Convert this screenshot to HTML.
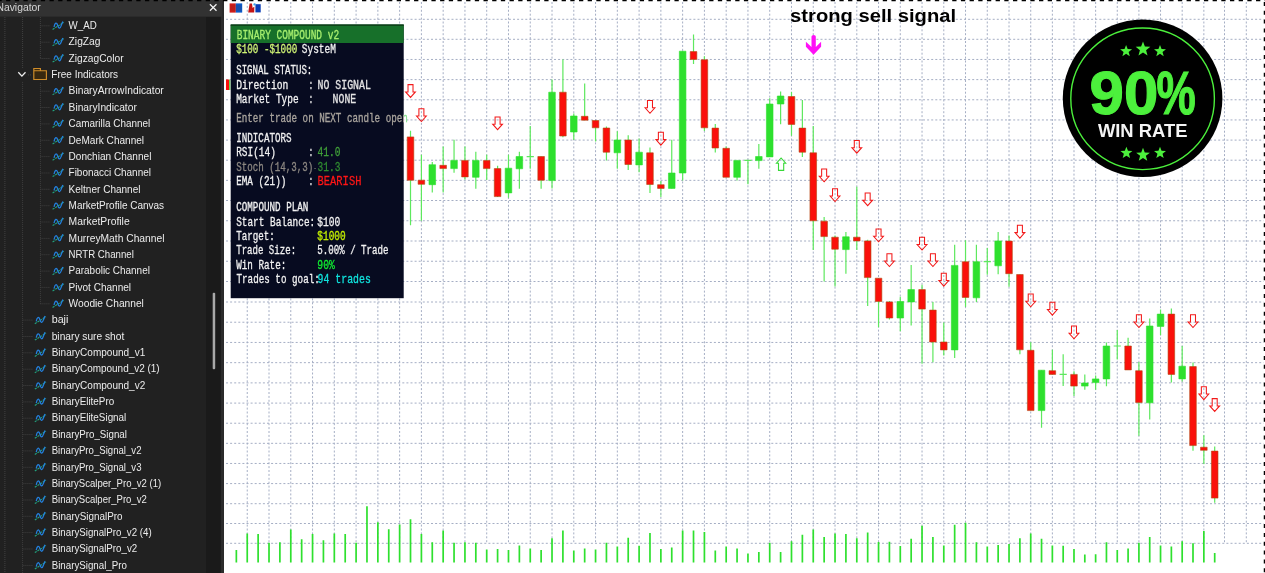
<!DOCTYPE html>
<html lang="en"><head><meta charset="utf-8"><title>Navigator - Binary Compound v2 chart</title>
<style>
html,body{margin:0;padding:0;background:#fff;}
body{width:1265px;height:573px;overflow:hidden;position:relative;font-family:"Liberation Sans",sans-serif;}
#chart{position:absolute;left:0;top:0;width:1265px;height:573px;display:block;}
#nav{position:absolute;left:0;top:0;width:225px;height:573px;display:block;}
#edge{position:absolute;left:0;top:0;width:1265px;height:3px;display:block;}

</style></head><body>
<svg id="chart" width="1265" height="573" viewBox="0 0 1265 573">
<rect x="0" y="0" width="1265" height="573" fill="#ffffff"/>
<path d="M226 19.30H1263.6M226 39.30H1263.6M226 59.46H1263.6M226 79.62H1263.6M226 99.78H1263.6M226 119.94H1263.6M226 140.10H1263.6M226 160.20H1263.6M226 180.35H1263.6M226 200.50H1263.6M226 220.75H1263.6M226 241.00H1263.6M226 261.25H1263.6M226 281.50H1263.6M226 302.00H1263.6M226 322.22H1263.6M226 342.44H1263.6M226 362.66H1263.6M226 382.88H1263.6M226 403.10H1263.6M226 423.22H1263.6M226 443.34H1263.6M226 463.46H1263.6M226 483.58H1263.6M226 503.70H1263.6M226 523.50H1263.6M226 543.30H1263.6" stroke="#a5aec4" stroke-width="1" stroke-dasharray="2 2.1" fill="none"/>
<path d="M247.24 2V543.6M269.01 2V543.6M290.78 2V543.6M312.55 2V543.6M334.32 2V543.6M356.09 2V543.6M377.86 2V543.6M399.63 2V543.6M421.40 2V543.6M443.17 2V543.6M464.94 2V543.6M486.71 2V543.6M508.48 2V543.6M530.25 2V543.6M552.02 2V543.6M573.79 2V543.6M595.56 2V543.6M617.33 2V543.6M639.10 2V543.6M660.87 2V543.6M682.64 2V543.6M704.41 2V543.6M726.18 2V543.6M747.95 2V543.6M769.72 2V543.6M791.49 2V543.6M813.26 2V543.6M835.03 2V543.6M856.80 2V543.6M878.55 2V543.6M900.29 2V543.6M922.04 2V543.6M943.79 2V543.6M965.53 2V543.6M987.28 2V543.6M1009.03 2V543.6M1030.72 2V543.6M1052.36 2V543.6M1073.99 2V543.6M1095.63 2V543.6M1117.27 2V543.6M1138.91 2V543.6M1160.54 2V543.6M1182.18 2V543.6M1203.85 2V543.6M1224.50 2V543.6M1246.30 2V543.6" stroke="#a5aec4" stroke-width="1" stroke-dasharray="2 1.9" fill="none"/>
<path d="M236.35 562.4V550.1M247.24 562.4V533.6M258.12 562.4V534.1M269.01 562.4V542.7M279.89 562.4V542.3M290.78 562.4V529.5M301.66 562.4V539.2M312.55 562.4V534.1M323.43 562.4V540.2M334.32 562.4V533.6M345.20 562.4V534.1M356.09 562.4V542.7M366.97 562.4V506.3M377.86 562.4V522.3M388.75 562.4V529.3M399.63 562.4V524.4M410.51 562.4V519.3M421.40 562.4V534.1M432.28 562.4V542.3M443.17 562.4V530.4M454.05 562.4V542.7M464.94 562.4V542.3M475.82 562.4V542.7M486.71 562.4V549.5M497.59 562.4V548.9M508.48 562.4V549.9M519.37 562.4V545.4M530.25 562.4V548.4M541.13 562.4V549.9M552.02 562.4V538.2M562.90 562.4V530.4M573.79 562.4V550.5M584.67 562.4V548.4M595.56 562.4V549.5M606.44 562.4V542.7M617.33 562.4V546.4M628.21 562.4V537.8M639.10 562.4V545.8M649.98 562.4V533.0M660.87 562.4V549.1M671.75 562.4V547.4M682.64 562.4V530.4M693.52 562.4V530.4M704.41 562.4V532.0M715.29 562.4V550.5M726.18 562.4V546.4M737.06 562.4V548.4M747.95 562.4V553.6M758.84 562.4V552.1M769.72 562.4V542.7M780.61 562.4V552.1M791.49 562.4V541.2M802.38 562.4V534.7M813.26 562.4V529.5M824.14 562.4V537.1M835.03 562.4V533.6M845.91 562.4V534.1M856.80 562.4V538.2M867.67 562.4V532.4M878.55 562.4V541.9M889.42 562.4V541.7M900.29 562.4V546.0M911.17 562.4V538.8M922.04 562.4V525.8M932.91 562.4V537.1M943.79 562.4V545.4M954.66 562.4V524.8M965.53 562.4V522.7M976.41 562.4V542.3M987.28 562.4V546.4M998.15 562.4V545.0M1009.03 562.4V543.9M1019.90 562.4V538.2M1030.72 562.4V533.6M1041.54 562.4V538.8M1052.36 562.4V545.4M1063.17 562.4V545.8M1073.99 562.4V548.9M1084.81 562.4V554.6M1095.63 562.4V554.2M1106.45 562.4V542.3M1117.27 562.4V550.1M1128.09 562.4V548.4M1138.91 562.4V542.7M1149.72 562.4V537.1M1160.54 562.4V545.4M1171.36 562.4V546.4M1182.18 562.4V541.2M1193.00 562.4V543.3M1203.85 562.4V531.0M1214.70 562.4V553.0" stroke="#2ee02e" stroke-width="1.7" fill="none"/>
<path d="M410.51 130.8V225.3M421.40 154.8V220.8M432.28 162.0V192.5M443.17 146.6V192.5M454.05 139.8V172.7M464.94 146.6V179.5M475.82 151.8V188.8M486.71 154.8V180.0M497.59 165.7V197.0M508.48 154.8V197.7M519.37 151.8V188.8M530.25 126.0V168.8M526.65 156.7H533.85M541.13 156.5V188.8M552.02 79.4V188.4M562.90 59.4V137.3M573.79 113.4V140.0M584.67 83.5V120.3M595.56 120.3V141.5M606.44 126.6V160.6M617.33 131.2V168.8M628.21 135.3V169.9M639.10 138.4V172.3M649.98 147.6V192.9M660.87 181.0V197.0M671.75 139.8V188.4M682.64 51.2V180.6M693.52 34.5V64.0M704.41 56.3V130.9M715.29 124.0V152.4M726.18 146.6V177.3M737.06 160.4V180.6M747.95 160.4V184.3M744.35 160.4H751.55M758.84 143.9V168.8M769.72 98.2V156.9M780.61 91.5V124.2M791.49 92.0V135.7M802.38 99.9V156.9M813.26 126.0V250.0M824.14 217.0V281.5M835.03 235.6V286.6M845.91 232.0V273.7M856.80 186.8V250.0M867.67 239.7V306.0M878.55 278.2V327.2M889.42 300.9V319.4M900.29 296.8V331.3M911.17 265.0V325.6M922.04 284.8V363.7M932.91 301.9V362.2M943.79 322.5V355.4M954.66 244.8V358.1M965.53 240.3V307.0M976.41 244.8V301.9M987.28 248.0V274.7M983.68 261.7H990.88M998.15 232.0V274.3M1009.03 235.6V286.7M1019.90 274.5V354.3M1030.72 342.3V410.6M1041.54 370.2V427.7M1052.36 349.7V374.4M1063.17 354.2V386.1M1059.58 374.4H1066.77M1073.99 371.3V396.0M1084.81 374.4V389.8M1095.63 375.4V389.8M1106.45 342.5V386.3M1117.27 330.1V359.6M1113.67 346.0H1120.87M1128.09 337.8V369.9M1138.91 362.0V435.7M1149.72 318.4V419.4M1160.54 309.6V335.3M1171.36 308.5V382.6M1182.18 346.0V381.6M1193.00 362.5V450.7M1203.85 435.3V464.1M1214.70 446.6V502.8" stroke="#5ee85e" stroke-width="1.2" fill="none"/>
<path d="M428.98 164.7h6.6V184.7h-6.6zM450.75 160.4h6.6V168.6h-6.6zM472.52 160.4h6.6V177.3h-6.6zM505.18 168.2h6.6V192.9h-6.6zM516.07 156.5h6.6V168.8h-6.6zM548.72 92.2h6.6V180.6h-6.6zM570.49 116.0h6.6V132.0h-6.6zM614.03 140.0h6.6V152.8h-6.6zM635.80 152.2h6.6V164.9h-6.6zM668.45 173.0h6.6V188.4h-6.6zM679.34 51.2h6.6V173.0h-6.6zM733.76 160.4h6.6V177.3h-6.6zM755.54 156.5h6.6V160.6h-6.6zM766.42 104.0h6.6V156.9h-6.6zM777.31 96.0h6.6V104.0h-6.6zM842.62 236.8h6.6V249.6h-6.6zM896.99 301.5h6.6V318.0h-6.6zM907.87 289.6h6.6V301.9h-6.6zM951.36 265.4h6.6V349.9h-6.6zM973.11 261.7h6.6V297.8h-6.6zM994.85 240.9h6.6V265.8h-6.6zM1038.24 370.2h6.6V410.6h-6.6zM1081.51 383.0h6.6V386.1h-6.6zM1092.33 378.9h6.6V382.6h-6.6zM1103.15 346.0h6.6V378.9h-6.6zM1146.42 326.0h6.6V402.8h-6.6zM1157.24 314.1h6.6V326.4h-6.6zM1178.88 366.2h6.6V378.9h-6.6z" fill="#2ee02e" stroke="#2ee02e" stroke-width="0.6"/>
<path d="M407.21 136.9h6.6V180.2h-6.6zM418.10 180.2h6.6V184.3h-6.6zM439.87 165.3h6.6V168.6h-6.6zM461.64 160.4h6.6V176.9h-6.6zM483.41 160.6h6.6V168.6h-6.6zM494.29 168.6h6.6V196.6h-6.6zM537.84 156.5h6.6V180.2h-6.6zM559.61 92.2h6.6V136.0h-6.6zM581.38 116.3h6.6V120.2h-6.6zM592.26 120.5h6.6V127.8h-6.6zM603.14 128.0h6.6V152.2h-6.6zM624.91 140.0h6.6V164.5h-6.6zM646.68 152.8h6.6V184.5h-6.6zM657.57 184.7h6.6V188.4h-6.6zM690.23 51.6h6.6V59.4h-6.6zM701.11 59.8h6.6V127.8h-6.6zM712.00 128.1h6.6V148.0h-6.6zM722.88 148.3h6.6V177.3h-6.6zM788.19 96.5h6.6V124.4h-6.6zM799.08 128.1h6.6V152.2h-6.6zM809.96 152.8h6.6V220.8h-6.6zM820.85 221.2h6.6V236.6h-6.6zM831.73 237.2h6.6V249.2h-6.6zM853.50 237.2h6.6V240.9h-6.6zM864.37 240.9h6.6V277.6h-6.6zM875.25 278.2h6.6V301.5h-6.6zM886.12 301.9h6.6V318.0h-6.6zM918.74 289.6h6.6V309.1h-6.6zM929.61 310.1h6.6V342.0h-6.6zM940.49 342.0h6.6V349.9h-6.6zM962.23 261.7h6.6V297.4h-6.6zM1005.73 241.1h6.6V273.7h-6.6zM1016.60 274.5h6.6V349.8h-6.6zM1027.42 350.3h6.6V410.6h-6.6zM1049.06 370.7h6.6V374.4h-6.6zM1070.69 374.4h6.6V386.1h-6.6zM1124.79 346.0h6.6V369.9h-6.6zM1135.61 370.7h6.6V402.5h-6.6zM1168.06 314.1h6.6V374.4h-6.6zM1189.70 366.6h6.6V445.6h-6.6zM1200.55 447.2h6.6V450.3h-6.6zM1211.40 451.1h6.6V498.1h-6.6z" fill="#fa100a" stroke="#b04a10" stroke-width="0.6"/>
<rect x="226" y="79.5" width="3.3" height="10.5" fill="#fa100a"/><rect x="229.3" y="79.5" width="1" height="10.5" fill="#2ee02e"/>
<path d="M408.01 84.60h5v7.3h2.4l-4.9 5.5l-4.9-5.5h2.4zM418.90 108.70h5v7.3h2.4l-4.9 5.5l-4.9-5.5h2.4zM495.09 116.90h5v7.3h2.4l-4.9 5.5l-4.9-5.5h2.4zM647.48 100.50h5v7.3h2.4l-4.9 5.5l-4.9-5.5h2.4zM658.37 132.30h5v7.3h2.4l-4.9 5.5l-4.9-5.5h2.4zM821.64 169.00h5v7.3h2.4l-4.9 5.5l-4.9-5.5h2.4zM832.53 188.70h5v7.3h2.4l-4.9 5.5l-4.9-5.5h2.4zM854.30 140.40h5v7.3h2.4l-4.9 5.5l-4.9-5.5h2.4zM865.17 192.90h5v7.3h2.4l-4.9 5.5l-4.9-5.5h2.4zM876.05 229.00h5v7.3h2.4l-4.9 5.5l-4.9-5.5h2.4zM886.92 253.70h5v7.3h2.4l-4.9 5.5l-4.9-5.5h2.4zM919.54 237.20h5v7.3h2.4l-4.9 5.5l-4.9-5.5h2.4zM930.41 253.70h5v7.3h2.4l-4.9 5.5l-4.9-5.5h2.4zM941.29 273.30h5v7.3h2.4l-4.9 5.5l-4.9-5.5h2.4zM1017.40 225.30h5v7.3h2.4l-4.9 5.5l-4.9-5.5h2.4zM1028.22 294.00h5v7.3h2.4l-4.9 5.5l-4.9-5.5h2.4zM1049.86 302.30h5v7.3h2.4l-4.9 5.5l-4.9-5.5h2.4zM1071.49 326.00h5v7.3h2.4l-4.9 5.5l-4.9-5.5h2.4zM1136.41 314.70h5v7.3h2.4l-4.9 5.5l-4.9-5.5h2.4zM1190.50 314.70h5v7.3h2.4l-4.9 5.5l-4.9-5.5h2.4zM1201.35 386.80h5v7.3h2.4l-4.9 5.5l-4.9-5.5h2.4zM1212.20 398.60h5v7.3h2.4l-4.9 5.5l-4.9-5.5h2.4z" fill="none" stroke="#f21a1a" stroke-width="1.05" stroke-linejoin="miter"/>
<path d="M778.50 170.40h5.2v-7.2h2l-4.6-5.2l-4.6 5.2h2z" fill="none" stroke="#38d838" stroke-width="1.1"/>
<path d="M811.5 36.6Q811.5 35 813.65 35Q815.8 35 815.8 36.6V47L821.1 41.7V46.8L813.6 54.7L805.9 46.8V41.7L811.5 47Z" fill="#ff10f6"/>
<text x="790.1" y="22.3" font-family="Liberation Sans, sans-serif" font-weight="700" font-size="19.2" textLength="166" lengthAdjust="spacingAndGlyphs" fill="#000">strong sell signal</text>
<g><rect x="229.6" y="3.4" width="6.2" height="9.2" fill="#d01c18"/><rect x="235.8" y="3.4" width="6.4" height="9.2" fill="#0a5ac8"/><path d="M230.5 6H241.5M230.5 8H241.5M230.5 10H241.5" stroke="#60282a" stroke-opacity=".45" stroke-width=".7"/><path d="M248.2 12.4L249.6 3.6L252 3.6L252.6 8L254.4 6.6L254.2 12.4Z" fill="#c41414"/><rect x="255.4" y="4.2" width="5.3" height="8.2" fill="#0a3cb4"/><circle cx="254.6" cy="4.4" r="1.2" fill="#3aa0e8"/></g>
<defs><linearGradient id="og" gradientUnits="userSpaceOnUse" x1="236" y1="0" x2="410" y2="0"><stop offset="0.9638" stop-color="#a8a39c"/><stop offset="0.9638" stop-color="#86e090"/></linearGradient></defs>
<g id="panel" font-family="Liberation Mono, monospace">
<rect x="230.7" y="24.6" width="173" height="273.6" fill="#070b20"/>
<rect x="230.7" y="24.6" width="173" height="18.4" fill="#17702a"/>
<rect x="230.7" y="24.6" width="173" height="1.2" fill="#0c3a14"/>
<text x="236.7" y="38.8" font-size="12.1" textLength="102.4" lengthAdjust="spacingAndGlyphs" fill="#a6ee6e" stroke="#a6ee6e" stroke-width="0.3">BINARY COMPOUND v2</text>
<text x="236.2" y="52.8" font-size="12.1" textLength="61.1" lengthAdjust="spacingAndGlyphs" fill="#cef274" stroke="#cef274" stroke-width="0.3">$100 -$1000</text>
<text x="301.8" y="52.8" font-size="12.1" textLength="34.1" lengthAdjust="spacingAndGlyphs" fill="#f2f2f2" stroke="#f2f2f2" stroke-width="0.3">SysteM</text>
<text x="236.2" y="74.1" font-size="12.1" textLength="76.1" lengthAdjust="spacingAndGlyphs" fill="#f2f2f2" stroke="#f2f2f2" stroke-width="0.3">SIGNAL STATUS:</text>
<text x="236.2" y="88.8" font-size="12.1" textLength="52.1" lengthAdjust="spacingAndGlyphs" fill="#f2f2f2" stroke="#f2f2f2" stroke-width="0.3">Direction</text>
<text x="308.8" y="88.8" font-size="12.1" textLength="4.4" lengthAdjust="spacingAndGlyphs" fill="#f2f2f2" stroke="#f2f2f2" stroke-width="0.3">:</text>
<text x="317.6" y="88.8" font-size="12.1" textLength="53.3" lengthAdjust="spacingAndGlyphs" fill="#e4e4e4" stroke="#e4e4e4" stroke-width="0.3">NO SIGNAL</text>
<text x="236.2" y="103.4" font-size="12.1" textLength="62.4" lengthAdjust="spacingAndGlyphs" fill="#f2f2f2" stroke="#f2f2f2" stroke-width="0.3">Market Type</text>
<text x="308.8" y="103.4" font-size="12.1" textLength="4.4" lengthAdjust="spacingAndGlyphs" fill="#f2f2f2" stroke="#f2f2f2" stroke-width="0.3">:</text>
<text x="332.6" y="103.4" font-size="12.1" textLength="23.6" lengthAdjust="spacingAndGlyphs" fill="#e4e4e4" stroke="#e4e4e4" stroke-width="0.3">NONE</text>
<text x="236.2" y="121.9" font-size="12.1" textLength="171.6" lengthAdjust="spacingAndGlyphs" fill="url(#og)" stroke="url(#og)" stroke-width="0.3">Enter trade on NEXT candle open</text>
<text x="236.2" y="141.9" font-size="12.1" textLength="55.4" lengthAdjust="spacingAndGlyphs" fill="#f2f2f2" stroke="#f2f2f2" stroke-width="0.3">INDICATORS</text>
<text x="236.2" y="156.2" font-size="12.1" textLength="39.6" lengthAdjust="spacingAndGlyphs" fill="#f2f2f2" stroke="#f2f2f2" stroke-width="0.3">RSI(14)</text>
<text x="308.8" y="156.2" font-size="12.1" textLength="4.4" lengthAdjust="spacingAndGlyphs" fill="#f2f2f2" stroke="#f2f2f2" stroke-width="0.3">:</text>
<text x="317.6" y="156.2" font-size="12.1" textLength="22.8" lengthAdjust="spacingAndGlyphs" fill="#3f9e38" stroke="#3f9e38" stroke-width="0.3">41.0</text>
<text x="236.2" y="170.8" font-size="12.1" textLength="77.2" lengthAdjust="spacingAndGlyphs" fill="#8d8882" stroke="#8d8882" stroke-width="0.3">Stoch (14,3,3)</text>
<text x="313.5" y="170.8" font-size="9" textLength="3.2" lengthAdjust="spacingAndGlyphs" fill="#6a6a6a" stroke="#6a6a6a" stroke-width="0.3">-</text>
<text x="317.6" y="170.8" font-size="12.1" textLength="22.8" lengthAdjust="spacingAndGlyphs" fill="#2f8a30" stroke="#2f8a30" stroke-width="0.3">31.3</text>
<text x="236.2" y="185.3" font-size="12.1" textLength="50.1" lengthAdjust="spacingAndGlyphs" fill="#f2f2f2" stroke="#f2f2f2" stroke-width="0.3">EMA (21))</text>
<text x="308.8" y="185.3" font-size="12.1" textLength="4.4" lengthAdjust="spacingAndGlyphs" fill="#f2f2f2" stroke="#f2f2f2" stroke-width="0.3">:</text>
<text x="317.6" y="185.4" font-size="13.2" textLength="43.8" lengthAdjust="spacingAndGlyphs" fill="#ff1616" stroke="#ff1616" stroke-width="0.3">BEARISH</text>
<text x="236.2" y="211.4" font-size="12.1" textLength="72.2" lengthAdjust="spacingAndGlyphs" fill="#f2f2f2" stroke="#f2f2f2" stroke-width="0.3">COMPOUND PLAN</text>
<text x="236.2" y="225.8" font-size="12.1" textLength="79.0" lengthAdjust="spacingAndGlyphs" fill="#f2f2f2" stroke="#f2f2f2" stroke-width="0.3">Start Balance:</text>
<text x="317.3" y="225.8" font-size="12.1" textLength="23.1" lengthAdjust="spacingAndGlyphs" fill="#f2f2f2" stroke="#f2f2f2" stroke-width="0.3">$100</text>
<text x="236.2" y="240.3" font-size="12.1" textLength="38.6" lengthAdjust="spacingAndGlyphs" fill="#f2f2f2" stroke="#f2f2f2" stroke-width="0.3">Target:</text>
<text x="317.3" y="240.3" font-size="12.1" textLength="28.4" lengthAdjust="spacingAndGlyphs" fill="#c2ee00" stroke="#c2ee00" stroke-width="0.3">$1000</text>
<text x="236.2" y="254.4" font-size="12.1" textLength="59.9" lengthAdjust="spacingAndGlyphs" fill="#f2f2f2" stroke="#f2f2f2" stroke-width="0.3">Trade Size:</text>
<text x="317.3" y="254.4" font-size="12.1" textLength="71.2" lengthAdjust="spacingAndGlyphs" fill="#f2f2f2" stroke="#f2f2f2" stroke-width="0.3">5.00% / Trade</text>
<text x="236.2" y="268.8" font-size="12.1" textLength="50.1" lengthAdjust="spacingAndGlyphs" fill="#f2f2f2" stroke="#f2f2f2" stroke-width="0.3">Win Rate:</text>
<text x="317.3" y="268.8" font-size="12.1" textLength="17.5" lengthAdjust="spacingAndGlyphs" fill="#10f030" stroke="#10f030" stroke-width="0.3">90%</text>
<text x="236.5" y="283.3" font-size="12.1" textLength="83.3" lengthAdjust="spacingAndGlyphs" fill="#f2f2f2" stroke="#f2f2f2" stroke-width="0.3">Trades to goal:</text>
<text x="317.6" y="283.3" font-size="12.1" textLength="53.2" lengthAdjust="spacingAndGlyphs" fill="#10e2dc" stroke="#10e2dc" stroke-width="0.3">94 trades</text>
</g>
<g id="badge">
<ellipse cx="1142.6" cy="98.3" rx="79.8" ry="78.8" fill="#000"/>
<ellipse cx="1142.6" cy="98.8" rx="71.8" ry="70.8" fill="none" stroke="#4cf03c" stroke-width="1.4"/>
<polygon points="1126.10,44.90 1127.66,49.06 1132.09,49.25 1128.62,52.02 1129.80,56.30 1126.10,53.85 1122.40,56.30 1123.58,52.02 1120.11,49.25 1124.54,49.06" fill="#4cf03c"/>
<polygon points="1143.00,41.50 1144.90,46.58 1150.32,46.82 1146.08,50.20 1147.53,55.43 1143.00,52.43 1138.47,55.43 1139.92,50.20 1135.68,46.82 1141.10,46.58" fill="#4cf03c"/>
<polygon points="1160.00,44.90 1161.56,49.06 1165.99,49.25 1162.52,52.02 1163.70,56.30 1160.00,53.85 1156.30,56.30 1157.48,52.02 1154.01,49.25 1158.44,49.06" fill="#4cf03c"/>
<polygon points="1126.40,146.70 1127.96,150.86 1132.39,151.05 1128.92,153.82 1130.10,158.10 1126.40,155.65 1122.70,158.10 1123.88,153.82 1120.41,151.05 1124.84,150.86" fill="#4cf03c"/>
<polygon points="1143.00,147.70 1144.78,152.45 1149.85,152.68 1145.88,155.83 1147.23,160.72 1143.00,157.92 1138.77,160.72 1140.12,155.83 1136.15,152.68 1141.22,152.45" fill="#4cf03c"/>
<polygon points="1160.00,146.70 1161.56,150.86 1165.99,151.05 1162.52,153.82 1163.70,158.10 1160.00,155.65 1156.30,158.10 1157.48,153.82 1154.01,151.05 1158.44,150.86" fill="#4cf03c"/>
<text y="113.7" font-family="Liberation Sans, sans-serif" font-weight="700" font-size="62" fill="#4cf03c" stroke="#4cf03c" stroke-width="1.2"><tspan x="1089.6" textLength="68.6" lengthAdjust="spacingAndGlyphs">90</tspan><tspan x="1156.6" textLength="39.2" lengthAdjust="spacingAndGlyphs">%</tspan></text>
<text x="1097.9" y="137.4" font-family="Liberation Sans, sans-serif" font-weight="700" font-size="18.4" textLength="89.5" lengthAdjust="spacingAndGlyphs" fill="#f4f4f4">WIN RATE</text>
</g>
<path d="M1264.4 1.9V573" stroke="#000" stroke-width="1.3" stroke-dasharray="4 4.85" fill="none"/>
</svg>
<svg id="nav" width="225" height="573" viewBox="0 0 225 573" font-family="Liberation Sans, sans-serif">
<rect x="0" y="0" width="224" height="573" fill="#212121"/>
<rect x="206.2" y="17" width="14.6" height="556" fill="#1a1a1a"/>
<rect x="220.8" y="0" width="3.1" height="573" fill="#2c2c2c"/>
<rect x="0" y="0" width="222" height="16.6" fill="#323232"/>
<rect x="212.7" y="292.8" width="2.5" height="76.4" rx="1" fill="#a8a8a8"/>
<path d="M4.9 17V573M22.6 17V68.9M22.6 81.9V573M40.4 17V58.5M40.4 82.9V303.8M40.4 25.8H50.5M40.4 42.2H50.5M40.4 58.5H50.5M28 74.9H31.5M40.4 91.2H50.5M40.4 107.5H50.5M40.4 123.9H50.5M40.4 140.3H50.5M40.4 156.6H50.5M40.4 173.0H50.5M40.4 189.3H50.5M40.4 205.7H50.5M40.4 222.0H50.5M40.4 238.4H50.5M40.4 254.7H50.5M40.4 271.1H50.5M40.4 287.4H50.5M40.4 303.8H50.5M22.6 320.1H33M22.6 336.5H33M22.6 352.8H33M22.6 369.2H33M22.6 385.5H33M22.6 401.9H33M22.6 418.2H33M22.6 434.6H33M22.6 450.9H33M22.6 467.3H33M22.6 483.6H33M22.6 500.0H33M22.6 516.3H33M22.6 532.6H33M22.6 549.0H33M22.6 565.4H33" stroke="#404040" stroke-width="1" stroke-dasharray="1 1" fill="none"/>
<path d="M18.3 72.3L21.9 76.1L25.5 72.3" fill="none" stroke="#f0f0f0" stroke-width="1.3"/>
<path d="M33.8 68.5H40.4V70.7H46.4V79.5H33.8Z M33.8 70.7H40.4" fill="#38280f" stroke="#cf8d2a" stroke-width="1.15"/>
<path d="M52.6 29.4L63.8 22.4M52.6 45.8L63.8 38.8M52.6 62.1L63.8 55.1M52.6 94.8L63.8 87.8M52.6 111.1L63.8 104.1M52.6 127.5L63.8 120.5M52.6 143.9L63.8 136.9M52.6 160.2L63.8 153.2M52.6 176.6L63.8 169.6M52.6 192.9L63.8 185.9M52.6 209.3L63.8 202.3M52.6 225.6L63.8 218.6M52.6 242.0L63.8 235.0M52.6 258.3L63.8 251.3M52.6 274.7L63.8 267.7M52.6 291.0L63.8 284.0M52.6 307.4L63.8 300.4M34.8 323.7L46.0 316.7M34.8 340.1L46.0 333.1M34.8 356.4L46.0 349.4M34.8 372.8L46.0 365.8M34.8 389.1L46.0 382.1M34.8 405.5L46.0 398.5M34.8 421.8L46.0 414.8M34.8 438.2L46.0 431.2M34.8 454.5L46.0 447.5M34.8 470.9L46.0 463.9M34.8 487.2L46.0 480.2M34.8 503.6L46.0 496.6M34.8 519.9L46.0 512.9M34.8 536.2L46.0 529.2M34.8 552.6L46.0 545.6M34.8 569.0L46.0 562.0" fill="none" stroke="#22a07c" stroke-width="1.15" stroke-dasharray="2.2 0.9"/>
<path d="M54.0 27.0C55.0 22.4 56.6 22.0 57.6 25.2S60.0 29.4 61.2 25.6L62.8 21.6M54.0 43.4C55.0 38.8 56.6 38.4 57.6 41.6S60.0 45.8 61.2 42.0L62.8 38.0M54.0 59.7C55.0 55.1 56.6 54.7 57.6 57.9S60.0 62.1 61.2 58.3L62.8 54.3M54.0 92.4C55.0 87.8 56.6 87.4 57.6 90.6S60.0 94.8 61.2 91.0L62.8 87.0M54.0 108.7C55.0 104.1 56.6 103.7 57.6 106.9S60.0 111.1 61.2 107.3L62.8 103.3M54.0 125.1C55.0 120.5 56.6 120.1 57.6 123.3S60.0 127.5 61.2 123.7L62.8 119.7M54.0 141.5C55.0 136.9 56.6 136.5 57.6 139.7S60.0 143.9 61.2 140.1L62.8 136.1M54.0 157.8C55.0 153.2 56.6 152.8 57.6 156.0S60.0 160.2 61.2 156.4L62.8 152.4M54.0 174.2C55.0 169.6 56.6 169.2 57.6 172.4S60.0 176.6 61.2 172.8L62.8 168.8M54.0 190.5C55.0 185.9 56.6 185.5 57.6 188.7S60.0 192.9 61.2 189.1L62.8 185.1M54.0 206.9C55.0 202.3 56.6 201.9 57.6 205.1S60.0 209.3 61.2 205.5L62.8 201.5M54.0 223.2C55.0 218.6 56.6 218.2 57.6 221.4S60.0 225.6 61.2 221.8L62.8 217.8M54.0 239.6C55.0 235.0 56.6 234.6 57.6 237.8S60.0 242.0 61.2 238.2L62.8 234.2M54.0 255.9C55.0 251.3 56.6 250.9 57.6 254.1S60.0 258.3 61.2 254.5L62.8 250.5M54.0 272.3C55.0 267.7 56.6 267.3 57.6 270.5S60.0 274.7 61.2 270.9L62.8 266.9M54.0 288.6C55.0 284.0 56.6 283.6 57.6 286.8S60.0 291.0 61.2 287.2L62.8 283.2M54.0 305.0C55.0 300.4 56.6 300.0 57.6 303.2S60.0 307.4 61.2 303.6L62.8 299.6M36.2 321.3C37.2 316.7 38.8 316.3 39.8 319.5S42.2 323.7 43.4 319.9L45.0 315.9M36.2 337.7C37.2 333.1 38.8 332.7 39.8 335.9S42.2 340.1 43.4 336.3L45.0 332.3M36.2 354.0C37.2 349.4 38.8 349.0 39.8 352.2S42.2 356.4 43.4 352.6L45.0 348.6M36.2 370.4C37.2 365.8 38.8 365.4 39.8 368.6S42.2 372.8 43.4 369.0L45.0 365.0M36.2 386.7C37.2 382.1 38.8 381.7 39.8 384.9S42.2 389.1 43.4 385.3L45.0 381.3M36.2 403.1C37.2 398.5 38.8 398.1 39.8 401.3S42.2 405.5 43.4 401.7L45.0 397.7M36.2 419.4C37.2 414.8 38.8 414.4 39.8 417.6S42.2 421.8 43.4 418.0L45.0 414.0M36.2 435.8C37.2 431.2 38.8 430.8 39.8 434.0S42.2 438.2 43.4 434.4L45.0 430.4M36.2 452.1C37.2 447.5 38.8 447.1 39.8 450.3S42.2 454.5 43.4 450.7L45.0 446.7M36.2 468.5C37.2 463.9 38.8 463.5 39.8 466.7S42.2 470.9 43.4 467.1L45.0 463.1M36.2 484.8C37.2 480.2 38.8 479.8 39.8 483.0S42.2 487.2 43.4 483.4L45.0 479.4M36.2 501.2C37.2 496.6 38.8 496.2 39.8 499.4S42.2 503.6 43.4 499.8L45.0 495.8M36.2 517.5C37.2 512.9 38.8 512.5 39.8 515.7S42.2 519.9 43.4 516.1L45.0 512.1M36.2 533.9C37.2 529.2 38.8 528.9 39.8 532.0S42.2 536.2 43.4 532.5L45.0 528.5M36.2 550.2C37.2 545.6 38.8 545.2 39.8 548.4S42.2 552.6 43.4 548.8L45.0 544.8M36.2 566.6C37.2 562.0 38.8 561.6 39.8 564.8S42.2 569.0 43.4 565.2L45.0 561.2" fill="none" stroke="#2480de" stroke-width="1.25" stroke-linejoin="round"/>
<g font-size="11.3" fill="#ececec">
<text x="-3.6" y="11.0" textLength="44.4" lengthAdjust="spacingAndGlyphs" fill="#d6d6d6">Navigator</text>
<text x="68.6" y="29.05" textLength="28.1" lengthAdjust="spacingAndGlyphs">W_AD</text>
<text x="68.6" y="45.40" textLength="31.9" lengthAdjust="spacingAndGlyphs">ZigZag</text>
<text x="68.6" y="61.75" textLength="55.0" lengthAdjust="spacingAndGlyphs">ZigzagColor</text>
<text x="51.3" y="78.10" textLength="66.8" lengthAdjust="spacingAndGlyphs">Free Indicators</text>
<text x="68.6" y="94.45" textLength="95.2" lengthAdjust="spacingAndGlyphs">BinaryArrowIndicator</text>
<text x="68.6" y="110.80" textLength="68.2" lengthAdjust="spacingAndGlyphs">BinaryIndicator</text>
<text x="68.6" y="127.15" textLength="81.6" lengthAdjust="spacingAndGlyphs">Camarilla Channel</text>
<text x="68.6" y="143.50" textLength="75.5" lengthAdjust="spacingAndGlyphs">DeMark Channel</text>
<text x="68.6" y="159.85" textLength="82.8" lengthAdjust="spacingAndGlyphs">Donchian Channel</text>
<text x="68.6" y="176.20" textLength="82.3" lengthAdjust="spacingAndGlyphs">Fibonacci Channel</text>
<text x="68.6" y="192.55" textLength="71.9" lengthAdjust="spacingAndGlyphs">Keltner Channel</text>
<text x="68.6" y="208.90" textLength="95.5" lengthAdjust="spacingAndGlyphs">MarketProfile Canvas</text>
<text x="68.6" y="225.25" textLength="61.1" lengthAdjust="spacingAndGlyphs">MarketProfile</text>
<text x="68.6" y="241.60" textLength="95.9" lengthAdjust="spacingAndGlyphs">MurreyMath Channel</text>
<text x="68.6" y="257.95" textLength="65.2" lengthAdjust="spacingAndGlyphs">NRTR Channel</text>
<text x="68.6" y="274.30" textLength="81.3" lengthAdjust="spacingAndGlyphs">Parabolic Channel</text>
<text x="68.6" y="290.65" textLength="62.5" lengthAdjust="spacingAndGlyphs">Pivot Channel</text>
<text x="68.6" y="307.00" textLength="75.3" lengthAdjust="spacingAndGlyphs">Woodie Channel</text>
<text x="51.7" y="323.35" textLength="16.7" lengthAdjust="spacingAndGlyphs">baji</text>
<text x="51.7" y="339.70" textLength="72.6" lengthAdjust="spacingAndGlyphs">binary sure shot</text>
<text x="51.7" y="356.05" textLength="93.6" lengthAdjust="spacingAndGlyphs">BinaryCompound_v1</text>
<text x="51.7" y="372.40" textLength="108.0" lengthAdjust="spacingAndGlyphs">BinaryCompound_v2 (1)</text>
<text x="51.7" y="388.75" textLength="93.6" lengthAdjust="spacingAndGlyphs">BinaryCompound_v2</text>
<text x="51.7" y="405.10" textLength="62.5" lengthAdjust="spacingAndGlyphs">BinaryElitePro</text>
<text x="51.7" y="421.45" textLength="74.6" lengthAdjust="spacingAndGlyphs">BinaryEliteSignal</text>
<text x="51.7" y="437.80" textLength="75.2" lengthAdjust="spacingAndGlyphs">BinaryPro_Signal</text>
<text x="51.7" y="454.15" textLength="89.8" lengthAdjust="spacingAndGlyphs">BinaryPro_Signal_v2</text>
<text x="51.7" y="470.50" textLength="89.8" lengthAdjust="spacingAndGlyphs">BinaryPro_Signal_v3</text>
<text x="51.7" y="486.85" textLength="109.6" lengthAdjust="spacingAndGlyphs">BinaryScalper_Pro_v2 (1)</text>
<text x="51.7" y="503.20" textLength="95.1" lengthAdjust="spacingAndGlyphs">BinaryScalper_Pro_v2</text>
<text x="51.7" y="519.55" textLength="70.9" lengthAdjust="spacingAndGlyphs">BinarySignalPro</text>
<text x="51.7" y="535.90" textLength="100.0" lengthAdjust="spacingAndGlyphs">BinarySignalPro_v2 (4)</text>
<text x="51.7" y="552.25" textLength="85.5" lengthAdjust="spacingAndGlyphs">BinarySignalPro_v2</text>
<text x="51.7" y="568.60" textLength="75.2" lengthAdjust="spacingAndGlyphs">BinarySignal_Pro</text>
</g>
<path d="M209.9 4.2L216.5 10.8M216.5 4.2L209.9 10.8" stroke="#f2f2f2" stroke-width="1.25" fill="none"/>
</svg>
<svg id="edge" width="1265" height="3" viewBox="0 0 1265 3"><path d="M-2.58 0.6H1265" stroke="#000" stroke-width="1.5" stroke-dasharray="4.3 4.38" fill="none"/></svg>
</body></html>
